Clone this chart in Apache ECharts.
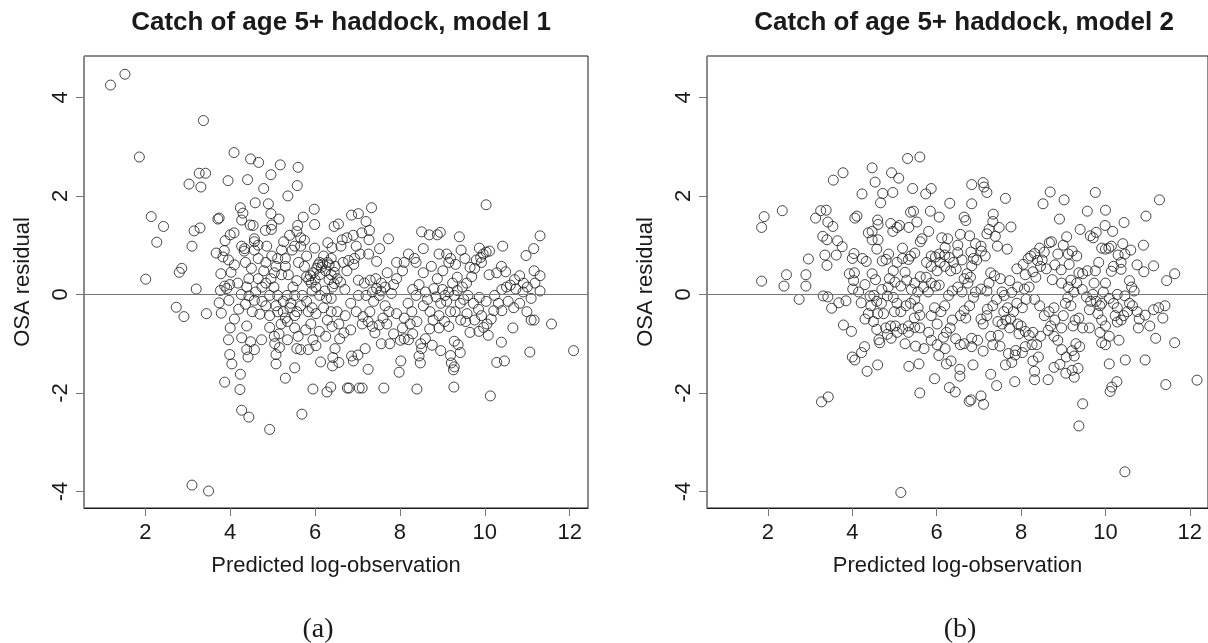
<!DOCTYPE html>
<html>
<head>
<meta charset="utf-8">
<script src="https://cdn.jsdelivr.net/npm/echarts@6/dist/echarts.min.js"></script>
<style>
  html, body { margin: 0; padding: 0; background: #fff; }
  #chart { width: 1208px; height: 643px; }
</style>
</head>
<body>
<div id="chart"></div>
<script>
// tick labels
var xTicks = [2, 4, 6, 8, 10, 12];
var yTicks = [-4, -2, 0, 2, 4];
var panelTitles = ['Catch of age 5+ haddock, model 1', 'Catch of age 5+ haddock, model 2'];
var panelCaptions = ['(a)', '(b)'];

// [predicted log-observation, OSA residual], model 1
var model1Points = [
  [1.18,4.25],[1.52,4.47],[3.37,3.53],[1.86,2.79],[4.09,2.88],[4.48,2.75],[4.67,2.68],[5.18,2.63],[5.60,2.58],
  [3.03,2.24],[3.27,2.46],[3.42,2.46],[3.31,2.18],[3.95,2.31],[4.41,2.33],[4.96,2.43],[4.79,2.15],[5.58,2.21],
  [5.36,2.0],[2.14,1.58],[2.43,1.38],[2.27,1.06],[2.01,0.31],[3.10,0.98],[3.15,1.29],[3.29,1.35],[3.20,0.11],
  [2.80,0.45],[2.86,0.53],[2.73,-0.26],[2.91,-0.45],[3.44,-0.39],[3.10,-3.87],[3.49,-3.99],[3.71,1.53],[3.74,1.55],
  [10.03,1.82],[12.09,-1.14],[11.57,-0.6],[11.06,-1.17],[10.13,-2.06],[8.40,-1.92],[9.27,-1.88],[7.62,-1.9],
  [7.98,-1.58],[7.04,-1.9],[7.11,-1.9],[6.76,-1.9],[6.80,-1.9],[5.95,-1.92],[6.28,-1.98],[6.37,-1.88],[5.69,-2.43],
  [4.93,-2.74],[4.27,-2.35],[4.44,-2.49],[4.23,-1.93],[4.24,-1.62],[3.87,-1.78],[4.04,-1.41],[3.99,-1.22],
  [3.96,-0.92],[4.0,-0.68],[5.30,-1.70],[5.52,-1.49],[7.25,-1.52],[9.28,-1.47],[10.46,-1.35],[10.28,-1.38],
  [8.51,1.27],[8.69,1.21],[8.88,1.21],[8.95,1.26],[9.40,1.17],[10.42,0.98],[11.30,1.19],[10.97,0.79],[11.15,0.93],
  [8.55,0.93],[7.73,1.13],[7.33,1.76],[6.86,1.61],[7.02,1.64],[7.20,1.48],[7.28,1.30],[7.27,1.11],[7.52,0.93],
  [6.45,1.38],[6.55,1.43],[5.98,1.73],[5.99,1.42],[5.72,1.57],[5.59,1.40],[5.57,1.28],[4.90,1.84],[4.96,1.64],
  [4.59,1.86],[4.30,1.65],[4.24,1.76],[4.27,1.51],[4.47,1.41],[4.57,1.07],[4.83,1.30],[4.98,1.41],[4.97,1.32],
  [5.15,1.53],[5.26,1.07],[5.99,0.94],[4.09,1.25],[4.0,1.21],[3.88,1.09],[3.86,0.89],[3.83,0.76],[3.67,0.84],
  [3.96,0.70],[4.27,0.98],[4.34,0.93],[4.50,0.53],[4.36,0.65],[4.02,0.45],[3.99,0.2],[3.92,0.12],[3.77,0.08],
  [3.74,-0.17],[3.79,-0.38],[3.97,-0.12],[4.18,0.23],[4.44,0.32],[4.39,0.15],[4.26,0.0],[4.44,-0.03],[4.57,-0.12],
  [4.36,-0.2],[4.52,-0.35],[4.39,-0.64],[4.27,-0.88],[4.48,-0.96],[4.39,-1.12],[4.42,-1.27],[4.57,-1.12],
  [4.74,-0.92],[4.93,-0.67],[5.04,-0.85],[5.05,-1.0],[5.08,-1.22],[5.08,-1.41],[5.16,-1.08],[5.15,-0.8],
  [5.35,-0.92],[5.52,-0.68],[5.57,-1.1],[5.66,-1.12],[5.84,-1.12],[5.78,-0.72],[5.95,-0.92],[6.02,-1.04],
  [6.13,-1.37],[6.42,-1.28],[6.41,-1.45],[6.56,-1.38],[6.47,-1.1],[6.58,-0.9],[6.68,-0.78],[6.84,-0.72],
  [6.86,-1.25],[6.90,-1.35],[7.01,-1.23],[7.18,-1.1],[7.11,-0.6],[7.13,-0.45],[7.41,-0.78],[7.56,-1.0],
  [7.76,-1.0],[8.01,-0.93],[8.10,-0.9],[8.02,-1.35],[8.2,-0.92],[8.45,-1.25],[8.48,-1.39],[8.49,-1.0],
  [8.51,-1.1],[8.76,-1.03],[8.96,-1.14],[9.19,-1.24],[9.21,-1.39],[9.28,-0.95],[9.37,-1.02],[9.42,-1.18],
  [9.26,-1.53],[9.43,-0.52],[9.65,-0.77],[9.86,-0.75],[9.97,-0.67],[10.08,-0.83],[10.21,-0.33],[10.40,-0.33],
  [10.66,-0.68],[10.39,-0.97],[10.99,-0.35],[11.09,-0.52],[11.16,-0.52],[11.09,-0.08],[11.18,0.23],[11.30,0.38],
  [11.16,0.48],[11.30,0.07],[10.91,0.23],[10.82,0.38],[10.73,0.11],[10.60,0.19],[10.51,0.15],[10.49,0.46],
  [10.39,0.57],[10.28,0.44],[10.10,0.4],[10.03,0.86],[9.96,0.82],[9.87,0.94],[10.11,0.88],[9.92,0.65],
  [9.76,0.53],[9.69,0.36],[9.57,0.23],[9.47,0.15],[9.24,0.23],[9.15,0.65],[8.92,0.82],[9.10,0.82],[9.19,0.73],
  [9.31,0.61],[9.44,0.9],[9.53,0.73],[9.01,0.48],[8.88,0.32],[8.74,0.57],[8.55,0.44],[8.38,0.65],[8.34,0.73],
  [8.2,0.82],[8.1,0.65],[7.92,0.65],[8.06,0.48],[7.92,0.32],[7.70,0.44],[7.65,0.15],[7.56,0.23],[7.43,0.32],
  [7.30,0.29],[7.16,0.23],[7.02,0.29],[6.91,0.61],[6.79,0.69],[6.93,0.73],[6.75,0.48],[6.66,0.65],[6.61,0.98],
  [6.64,1.11],[6.75,1.15],[6.97,0.98],[7.06,0.82],[7.26,0.82],[7.45,0.67],[6.47,0.57],[6.38,0.73],[6.29,0.65],
  [6.20,0.78],[6.11,0.65],[6.04,0.53],[5.96,0.44],[5.89,0.38],[5.80,0.36],[5.91,0.23],[6.11,0.4],[6.25,0.48],
  [6.38,0.4],[6.52,0.32],[6.41,0.15],[6.23,0.07],[6.11,-0.02],[6.27,-0.08],[6.38,-0.08],[6.20,-0.27],[6.38,-0.35],
  [6.29,-0.52],[6.52,-0.35],[6.56,-0.6],[6.71,-0.43],[6.84,-0.18],[6.97,-0.35],[7.02,-0.02],[7.20,-0.02],
  [7.38,-0.14],[7.51,-0.02],[7.65,-0.23],[7.74,-0.35],[7.60,-0.48],[7.69,-0.6],[7.51,-0.62],[7.29,-0.35],
  [7.92,-0.39],[8.10,-0.48],[8.06,-0.68],[8.24,-0.6],[8.28,-0.35],[8.19,-0.18],[8.38,-0.02],[8.55,-0.23],
  [8.71,-0.35],[8.78,-0.52],[8.92,-0.68],[8.92,-0.43],[8.96,-0.18],[9.10,-0.14],[9.06,-0.02],[9.28,-0.02],
  [9.19,-0.35],[9.42,-0.18],[9.60,-0.02],[9.73,-0.18],[9.87,-0.06],[10.03,-0.14],[9.92,-0.43],[9.76,-0.52],
  [10.05,-0.6],[10.23,-0.02],[10.32,-0.18],[10.55,-0.14],[10.68,-0.27],[10.82,-0.18],[9.58,-0.39],
  [4.66,0.32],[4.84,0.23],[4.96,0.32],[5.03,0.15],[5.12,-0.02],[4.93,-0.02],[4.75,-0.14],[4.84,-0.23],
  [5.08,-0.23],[5.25,-0.14],[5.34,-0.02],[5.43,-0.18],[5.52,-0.02],[5.48,0.15],[5.57,0.28],[5.37,0.4],
  [5.21,0.4],[5.30,0.57],[5.12,0.73],[4.98,0.78],[4.84,0.65],[4.79,0.48],[4.66,0.73],[4.57,0.9],[4.86,0.98],
  [5.21,0.9],[5.46,0.9],[5.66,0.98],[5.80,0.78],[5.61,0.65],[5.75,0.57],[5.66,1.15],[5.52,0.98],[5.30,0.73],
  [5.08,0.57],[5.04,0.44],[5.41,-0.27],[5.57,-0.35],[5.66,-0.23],[5.80,-0.14],[5.93,-0.27],[6.02,-0.39],
  [5.84,-0.35],[5.25,-0.35],[5.12,-0.35],[4.93,-0.43],[5.30,-0.48],[5.52,-0.43],[5.70,-0.02],[5.93,0.07],
  [6.02,0.15],[4.54,1.4],[4.57,1.13],[4.66,1.0],[4.33,0.88],[3.78,0.42],[3.87,0.17],
  [6.07,0.6],[6.15,0.55],[6.18,0.62],[6.33,0.6],[6.45,0.45],[6.0,0.3],[5.85,0.3],[6.33,0.3],[6.45,0.22],
  [6.6,0.25],[6.7,0.1],[7.35,0.05],[7.45,0.12],[7.55,0.07],[7.8,0.02],[7.85,0.2],[8.3,0.1],[8.45,0.2],
  [8.6,0.05],[8.65,-0.1],[8.8,0.12],[8.85,-0.05],[9.0,0.1],[9.15,0.05],[9.35,0.08],[9.5,-0.1],[9.65,0.55],
  [9.8,0.7],[9.9,0.75],[9.35,0.35],[10.4,0.1],[10.7,0.3],[10.9,0.05],[11.0,0.15],[7.25,-0.55],[7.35,-0.65],
  [7.85,-0.8],[8.3,-0.8],[8.4,-0.55],[8.6,-0.9],[8.7,-0.7],[9.05,-0.55],[9.15,-0.65],[9.3,-0.35],[9.55,-0.55],
  [9.85,-0.3],[10.15,-0.5],[5.2,-0.6],[5.35,-0.55],[5.6,-0.85],[5.9,-0.6],[6.1,-0.75],[6.25,-0.85],[6.4,-0.65],
  [4.1,0.6],[4.2,-0.3],[4.6,0.05],[4.7,-0.4],[4.75,0.15],[4.1,-0.5],[5.4,1.2],[5.75,1.1],[6.3,1.05],[6.4,0.95],
  [6.9,1.2],[7.1,1.25]
];

// [predicted log-observation, OSA residual], model 2
var model2Points = [
  [1.85,1.36],[1.91,1.58],[1.85,0.27],[2.34,1.7],[2.38,0.17],[2.44,0.4],[2.74,-0.1],[2.90,0.17],[2.90,0.4],
  [2.96,0.72],[3.13,1.55],[3.25,1.7],[3.38,1.71],[3.30,1.18],[3.40,1.11],[3.42,1.47],[3.54,1.38],[3.55,2.32],
  [3.78,2.47],[3.35,0.8],[3.40,0.59],[3.62,0.8],[3.65,1.09],[3.76,0.97],[3.31,-0.03],[3.42,-0.05],[3.51,-0.28],
  [3.68,-0.17],[3.85,-0.13],[3.79,-0.62],[3.98,-0.75],[4.00,-1.27],[4.06,-1.33],[4.22,-1.18],[4.29,-1.06],
  [4.35,-1.56],[4.60,-1.43],[3.27,-2.18],[3.43,-2.08],[4.23,2.04],[4.47,2.57],[4.54,2.28],[4.67,1.86],
  [4.72,2.05],[4.93,2.47],[4.96,2.07],[5.10,2.36],[5.31,2.76],[5.60,2.79],[5.43,2.15],[5.87,2.15],[5.74,2.04],
  [6.31,1.85],[6.83,2.23],[7.10,2.27],[7.12,2.18],[7.19,2.07],[6.83,1.84],[7.63,1.95],[7.34,1.63],[7.33,1.48],
  [7.76,1.37],[8.52,1.84],[8.69,2.08],[9.02,1.92],[9.76,2.07],[10.0,1.71],[9.57,1.69],[8.91,1.53],[9.40,1.32],
  [9.99,1.4],[10.44,1.46],[10.96,1.59],[11.28,1.92],[11.14,0.58],[10.91,0.46],[11.45,0.28],[11.64,0.42],
  [11.41,-0.23],[11.64,-0.98],[11.43,-1.83],[12.17,-1.74],[10.94,-1.33],[11.19,-0.89],[10.46,-3.6],[10.47,-1.33],
  [10.27,-1.77],[10.15,-1.88],[10.11,-1.97],[10.09,-1.41],[9.46,-2.22],[9.37,-2.67],[9.26,-1.68],[9.35,-1.5],
  [9.21,-1.54],[9.06,-1.6],[8.92,-1.42],[8.78,-1.48],[8.64,-1.73],[8.32,-1.73],[8.32,-1.56],[7.85,-1.77],
  [7.63,-1.43],[7.78,-1.38],[7.86,-1.23],[7.42,-1.85],[7.28,-1.62],[7.11,-2.23],[7.05,-2.06],[6.81,-2.14],
  [6.77,-2.17],[6.44,-1.98],[6.30,-1.89],[5.95,-1.71],[5.60,-2.0],[5.15,-4.02],[6.55,-1.66],[6.55,-1.52],
  [6.34,-1.35],[6.23,-1.41],[6.05,-1.24],[5.58,-1.41],[5.34,-1.46],[6.86,-1.43],
  [4.47,1.28],[4.38,1.25],[4.47,1.11],[4.61,1.11],[4.60,1.51],[4.61,1.42],[4.06,1.55],[4.11,1.59],[4.04,0.83],
  [4.00,0.73],[3.93,0.42],[4.05,0.44],[4.03,0.28],[4.01,0.11],[4.24,0.73],[4.33,0.67],[4.47,0.42],[4.58,0.92],
  [4.71,0.68],[4.80,0.71],[4.86,0.82],[4.91,1.44],[4.96,1.28],[5.06,1.36],[5.12,1.40],[5.19,0.94],[5.34,1.36],
  [5.38,1.67],[5.45,1.69],[5.53,1.47],[5.61,1.07],[5.65,1.13],[5.81,1.28],[5.85,1.69],[6.06,1.57],[6.12,1.15],
  [6.26,1.13],[6.56,1.22],[6.65,1.57],[6.69,1.5],[6.78,1.19],[6.92,1.03],[7.05,0.98],[7.19,1.23],[7.24,1.32],
  [7.39,1.18],[7.44,0.98],[7.67,0.92],[7.48,1.36],[5.48,0.84],[5.38,0.78],[5.33,0.71],[5.19,0.73],[5.06,0.65],
  [4.97,0.48],[4.88,0.32],[5.01,0.25],[5.15,0.17],[5.29,0.29],[5.48,0.23],[5.61,0.36],[5.76,0.65],[5.87,0.78],
  [5.97,0.76],[6.06,0.82],[6.19,0.8],[6.30,0.75],[6.40,0.65],[6.46,0.52],[6.33,0.48],[6.19,0.57],[6.08,0.65],
  [6.01,0.48],[5.87,0.57],[5.97,0.17],[6.06,0.19],[5.87,0.23],[5.69,0.15],[6.65,0.32],[6.72,0.42],[6.74,0.23],
  [6.83,0.58],[6.87,0.73],[6.81,0.86],[7.06,0.88],[7.15,0.78],[7.28,0.44],[7.37,0.38],[7.51,0.32],[7.24,0.23],
  [7.05,0.11],[7.19,0.07],[6.92,0.05],[7.73,0.28],[7.90,0.52],[8.05,0.61],[8.17,0.73],[8.23,0.78],[8.32,0.83],
  [8.44,0.94],[8.55,0.86],[8.67,1.05],[8.72,1.07],[8.87,0.82],[9.0,1.0],[9.08,1.17],[9.12,0.82],[9.21,0.88],
  [9.14,0.61],[9.32,0.78],[9.37,0.44],[9.46,0.42],[9.57,0.48],[9.64,1.19],[9.71,1.15],[9.78,1.26],[9.91,0.94],
  [10.0,0.92],[10.08,0.94],[10.14,0.98],[10.17,1.28],[10.41,1.03],[10.46,0.82],[10.37,0.65],[10.37,0.51],
  [10.19,0.57],[10.14,0.47],[9.84,0.65],[9.76,0.48],[9.73,0.23],[10.0,0.23],[9.32,0.23],[9.18,0.29],[9.12,0.15],
  [8.96,0.23],[8.74,0.3],[8.60,0.52],[8.46,0.57],[8.39,0.69],[8.28,0.46],[8.19,0.15],[8.08,0.11],[7.92,0.15],
  [7.78,0.04],[7.55,0.05],[7.60,-0.02],[10.57,0.28],[10.62,0.15],[10.68,0.07],[10.28,0.0],[10.46,-0.03],
  [4.21,-0.17],[4.42,-0.03],[4.51,-0.02],[4.58,-0.14],[4.44,-0.23],[4.38,-0.39],[4.60,-0.39],[4.74,-0.39],
  [4.69,-0.18],[4.83,-0.03],[4.97,-0.06],[5.06,-0.18],[5.0,-0.35],[5.15,-0.35],[5.27,-0.23],[5.38,-0.18],
  [5.48,-0.1],[5.56,-0.27],[5.60,-0.42],[5.47,-0.48],[5.33,-0.64],[5.19,-0.7],[5.02,-0.64],[4.91,-0.64],
  [4.79,-0.68],[4.58,-0.71],[4.63,-0.92],[4.65,-0.98],[4.83,-0.81],[4.92,-0.89],[5.06,-0.77],[5.33,-0.77],
  [5.48,-0.67],[5.60,-0.68],[5.81,-0.77],[5.87,-0.93],[6.01,-1.02],[6.16,-0.87],[6.23,-0.77],[6.32,-0.68],
  [6.37,-0.52],[6.56,-0.43],[6.69,-0.48],[6.65,-0.33],[6.78,-0.23],[6.87,-0.06],[6.10,-0.35],[5.95,-0.27],
  [6.19,-0.23],[6.28,-0.02],[6.37,0.07],[5.87,-0.43],[6.01,-0.6],[6.56,-1.02],[6.65,-1.0],[6.83,-1.06],
  [6.83,-0.89],[6.97,-0.93],[7.05,-0.5],[7.10,-0.6],[7.19,-0.43],[7.28,-0.85],[7.33,-1.02],[7.46,-0.83],
  [7.55,-0.6],[7.64,-0.52],[7.73,-0.68],[7.59,-0.35],[7.68,-0.27],[7.33,-0.23],[7.42,-0.1],[7.82,-0.35],
  [7.92,-0.6],[8.0,-0.64],[8.10,-0.75],[8.19,-0.83],[8.28,-0.77],[8.26,-1.02],[8.37,-1.02],[8.46,-0.85],
  [8.41,-1.27],[8.28,-1.35],[8.03,-1.18],[8.10,-1.06],[7.87,-1.14],[7.90,-0.18],[8.03,-0.27],[8.12,-0.1],
  [8.32,-0.1],[8.44,-0.23],[8.55,-0.43],[8.66,-0.35],[8.78,-0.27],[8.80,-0.52],[8.70,-0.64],[8.64,-0.73],
  [8.78,-0.85],[8.87,-0.93],[8.96,-1.12],[8.96,-0.68],[9.0,-0.43],[9.05,-0.18],[9.11,-0.06],[9.18,-0.23],
  [9.23,-0.64],[9.28,-0.52],[9.37,-0.48],[9.46,-0.68],[9.30,-1.0],[9.39,-1.06],[9.21,-1.14],[9.26,-1.25],
  [9.07,-1.27],[9.62,-0.68],[9.65,-0.14],[9.62,-0.31],[9.78,-0.14],[9.87,-0.23],[9.91,-0.18],[9.82,-0.39],
  [9.91,-0.52],[10.0,-0.64],[9.87,-0.77],[9.91,-0.98],[10.0,-1.02],[10.23,-0.43],[10.28,-0.56],[10.37,-0.52],
  [10.43,-0.43],[10.32,-0.93],[10.09,-0.85],[10.64,-0.23],[10.75,-0.35],[10.80,-0.5],[10.78,-0.68],[11.05,-0.64],
  [10.94,-0.42],[11.14,-0.31],[11.26,-0.27],[11.36,-0.48],[10.52,-0.35],[10.57,-0.18],[10.19,-0.18],
  [10.28,-0.27],[10.09,-0.08],
  [4.15,0.05],[4.3,0.2],[4.55,0.3],[4.7,0.1],[4.85,0.15],[4.3,-0.5],[4.5,-0.55],[5.25,0.45],[5.4,0.1],
  [5.55,0.05],[5.75,0.35],[5.8,0.05],[6.2,0.95],[6.5,0.85],[6.6,0.7],[6.95,0.7],[6.5,1.0],[6.5,0.15],
  [6.6,0.05],[6.8,0.35],[7.2,-0.3],[7.45,-0.55],[7.75,-0.5],[7.95,-0.8],[8.1,0.4],[8.35,0.35],[8.5,0.7],
  [8.8,0.6],[8.95,0.5],[9.25,0.05],[9.45,0.1],[9.55,-0.05],[9.7,0.0],[9.95,0.05],[10.3,0.8],[10.6,0.9],
  [10.75,0.6],[10.9,1.0],[5.5,-1.05],[5.7,-1.1],[6.2,-1.1],[6.45,-0.9],[5.25,-1.0],[7.1,-1.15],[7.5,-1.05],
  [7.7,-1.2]
];

var chart = echarts.init(document.getElementById('chart'));

var font = 'Liberation Sans, Arial, Helvetica, sans-serif';
var panelLeft = [84, 707];

function makeX(i) {
  return {
    gridIndex: i,
    type: 'value',
    min: 0.556,
    max: 12.43,
    splitLine: { show: false },
    axisLine: { show: true, onZero: false, lineStyle: { color: '#1a1a1a', width: 1 } },
    axisTick: { show: true, customValues: xTicks, length: 8, lineStyle: { color: '#777' } },
    axisLabel: { customValues: xTicks, fontSize: 22, color: '#1a1a1a', margin: 14, fontFamily: font },
    name: 'Predicted log-observation',
    nameLocation: 'middle',
    nameGap: 47,
    nameTextStyle: { fontSize: 22, color: '#1a1a1a', fontFamily: font }
  };
}

function makeY(i) {
  return {
    gridIndex: i,
    type: 'value',
    min: -4.335,
    max: 4.84,
    splitLine: { show: false },
    axisLine: { show: true, onZero: false, lineStyle: { color: '#888', width: 1 } },
    axisTick: { show: true, customValues: yTicks, length: 8, lineStyle: { color: '#777' } },
    axisLabel: { customValues: yTicks, fontSize: 22, color: '#1a1a1a', margin: 12, rotate: 90, fontFamily: font },
    name: 'OSA residual',
    nameLocation: 'middle',
    nameGap: 50,
    nameTextStyle: { fontSize: 22, color: '#1a1a1a', fontFamily: font }
  };
}

function makeSeries(i, pts) {
  return {
    type: 'scatter',
    xAxisIndex: i,
    yAxisIndex: i,
    data: pts,
    symbol: 'circle',
    symbolSize: 10,
    itemStyle: { color: 'rgba(0,0,0,0)', borderColor: '#1a1a1a', borderWidth: 1 },
    emphasis: { disabled: true },
    markLine: {
      silent: true,
      symbol: ['none', 'none'],
      label: { show: false },
      lineStyle: { color: '#777', type: 'solid', width: 1 },
      data: [{ yAxis: 0 }]
    }
  };
}

var option = {
  animation: false,
  backgroundColor: '#fff',
  title: [
    { text: panelTitles[0], left: 336, top: 5, textAlign: 'center',
      textStyle: { fontSize: 26, fontWeight: 'bold', color: '#1a1a1a', fontFamily: font } },
    { text: panelTitles[1], left: 959, top: 5, textAlign: 'center',
      textStyle: { fontSize: 26, fontWeight: 'bold', color: '#1a1a1a', fontFamily: font } },
    { text: panelCaptions[0], left: 313, top: 611, textAlign: 'center',
      textStyle: { fontSize: 28, fontWeight: 'normal', color: '#1a1a1a', fontFamily: 'Liberation Serif, DejaVu Serif, serif' } },
    { text: panelCaptions[1], left: 955, top: 611, textAlign: 'center',
      textStyle: { fontSize: 28, fontWeight: 'normal', color: '#1a1a1a', fontFamily: 'Liberation Serif, DejaVu Serif, serif' } }
  ],
  grid: [
    { left: panelLeft[0], top: 56, width: 504, height: 452, show: true, borderColor: '#1a1a1a', borderWidth: 1, backgroundColor: 'transparent' },
    { left: panelLeft[1], top: 56, width: 504, height: 452, show: true, borderColor: '#1a1a1a', borderWidth: 1, backgroundColor: 'transparent' }
  ],
  xAxis: [makeX(0), makeX(1)],
  yAxis: [makeY(0), makeY(1)],
  series: [makeSeries(0, model1Points), makeSeries(1, model2Points)]
};

chart.setOption(option);
</script>
</body>
</html>
